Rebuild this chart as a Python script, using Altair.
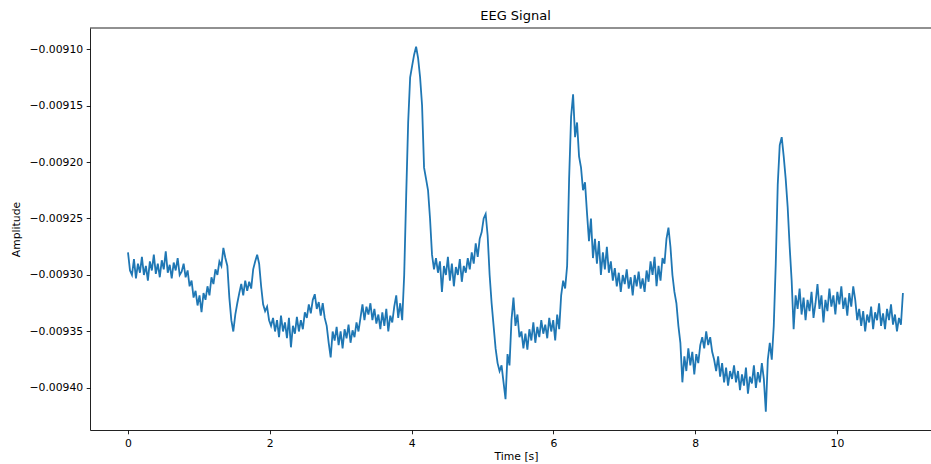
import altair as alt
import numpy as np
import pandas as pd

amplitude = [
    -0.009280, -0.009296, -0.009300, -0.009286, -0.009303, -0.009290, -0.009298, -0.009284, -0.009300, -0.009292,
    -0.009305, -0.009288, -0.009296, -0.009282, -0.009299, -0.009290, -0.009302, -0.009287, -0.009295, -0.009279,
    -0.009298, -0.009291, -0.009303, -0.009289, -0.009296, -0.009285, -0.009300,
    -0.009297, -0.009290, -0.009302, -0.009296, -0.009310, -0.009305, -0.009320, -0.009314, -0.009327, -0.009318,
    -0.009333, -0.009316, -0.009322,
    -0.009310, -0.009318, -0.009302, -0.009308, -0.009295, -0.009300, -0.009288, -0.009292, -0.009276, -0.009285,
    -0.009292, -0.009320, -0.009340, -0.009350, -0.009335, -0.009325,
    -0.009316, -0.009308, -0.009318, -0.009305, -0.009314, -0.009306, -0.009312, -0.009295, -0.009288, -0.009282,
    -0.009290,
    -0.009310, -0.009326, -0.009332, -0.009328, -0.009340, -0.009345, -0.009338,
    -0.009350, -0.009340, -0.009355, -0.009336, -0.009350, -0.009342, -0.009356, -0.009338, -0.009364, -0.009345,
    -0.009352, -0.009337, -0.009350, -0.009340, -0.009348, -0.009333,
    -0.009338, -0.009326, -0.009334, -0.009322, -0.009317, -0.009330, -0.009324, -0.009336, -0.009325, -0.009338,
    -0.009345, -0.009360, -0.009373, -0.009350,
    -0.009358, -0.009346, -0.009362, -0.009350, -0.009365, -0.009348, -0.009356, -0.009344, -0.009360, -0.009349,
    -0.009355, -0.009342, -0.009350,
    -0.009338, -0.009326, -0.009340, -0.009328, -0.009335, -0.009325, -0.009340, -0.009330, -0.009343,
    -0.009335, -0.009348, -0.009333, -0.009345, -0.009330, -0.009350, -0.009336, -0.009342, -0.009328, -0.009318,
    -0.009338, -0.009325,
    -0.009340, -0.009300, -0.009230, -0.009165, -0.009125, -0.009115, -0.009105, -0.009098, -0.009108, -0.009125,
    -0.009150, -0.009205, -0.009215, -0.009225, -0.009250, -0.009282, -0.009295,
    -0.009285, -0.009298, -0.009288, -0.009315, -0.009292, -0.009300, -0.009284, -0.009305, -0.009290, -0.009310,
    -0.009293, -0.009300, -0.009286, -0.009306, -0.009292, -0.009298,
    -0.009285, -0.009295, -0.009280, -0.009290, -0.009272, -0.009284, -0.009268, -0.009262, -0.009250, -0.009246,
    -0.009265, -0.009300, -0.009325, -0.009345, -0.009365, -0.009378, -0.009385, -0.009380, -0.009395, -0.009410,
    -0.009370, -0.009380,
    -0.009340, -0.009320, -0.009345, -0.009335, -0.009355, -0.009350, -0.009365,
    -0.009352, -0.009366, -0.009348, -0.009358, -0.009342, -0.009360, -0.009346, -0.009355, -0.009340, -0.009352,
    -0.009344, -0.009356, -0.009338, -0.009350, -0.009340, -0.009358, -0.009335, -0.009348,
    -0.009318, -0.009305, -0.009312, -0.009292, -0.009215, -0.009160, -0.009140,
    -0.009178, -0.009165, -0.009195, -0.009205, -0.009225, -0.009218, -0.009245, -0.009270, -0.009250, -0.009285,
    -0.009268,
    -0.009290, -0.009270, -0.009300, -0.009280, -0.009295, -0.009275, -0.009298,
    -0.009288, -0.009305, -0.009294, -0.009310, -0.009298, -0.009315, -0.009300, -0.009308, -0.009295, -0.009312,
    -0.009302, -0.009318, -0.009300, -0.009310, -0.009297, -0.009312, -0.009303, -0.009315, -0.009296,
    -0.009306, -0.009288, -0.009300, -0.009284, -0.009310, -0.009292, -0.009305, -0.009285, -0.009290, -0.009268,
    -0.009258, -0.009275, -0.009300, -0.009315, -0.009325, -0.009345, -0.009360, -0.009395,
    -0.009372, -0.009385, -0.009365, -0.009380, -0.009368, -0.009388, -0.009370, -0.009378, -0.009362,
    -0.009355, -0.009365, -0.009350, -0.009362, -0.009355, -0.009368,
    -0.009375, -0.009385, -0.009372, -0.009390, -0.009378, -0.009395, -0.009382, -0.009398, -0.009385, -0.009392,
    -0.009380, -0.009395, -0.009385, -0.009402, -0.009388, -0.009398, -0.009382, -0.009405, -0.009390, -0.009396,
    -0.009380, -0.009400, -0.009386, -0.009395, -0.009378, -0.009392, -0.009421,
    -0.009375, -0.009360, -0.009375, -0.009345, -0.009290, -0.009220, -0.009185, -0.009178, -0.009195, -0.009215,
    -0.009240, -0.009275, -0.009305, -0.009348,
    -0.009318, -0.009330, -0.009312, -0.009335, -0.009320, -0.009340, -0.009322, -0.009332, -0.009315, -0.009338,
    -0.009325, -0.009308, -0.009330, -0.009318, -0.009342, -0.009322, -0.009332, -0.009312, -0.009328, -0.009318,
    -0.009335, -0.009315, -0.009326, -0.009310, -0.009330, -0.009320, -0.009336, -0.009316, -0.009328, -0.009310,
    -0.009322, -0.009340,
    -0.009330, -0.009345, -0.009332, -0.009350, -0.009335, -0.009342, -0.009328, -0.009348, -0.009333, -0.009340,
    -0.009325, -0.009345, -0.009334, -0.009348, -0.009330, -0.009340, -0.009326, -0.009344, -0.009335, -0.009350,
    -0.009338, -0.009344, -0.009316,
]
t_end = 10.93  # last sample time [s]

x_ticks = [0, 2, 4, 6, 8, 10]
y_ticks = [-0.00940, -0.00935, -0.00930, -0.00925, -0.00920, -0.00915, -0.00910]

time_s = np.linspace(0.0, t_end, len(amplitude))
df = pd.DataFrame({"time": time_s, "amplitude": amplitude})

W, H = 841, 402
FONT = "DejaVu Sans"

line = alt.Chart(df).mark_line(color="#1f77b4", strokeWidth=1.8, clip=True).encode(
    x=alt.X(
        "time:Q",
        title="Time [s]",
        scale=alt.Scale(domain=[-0.536, 11.326], nice=False, zero=False),
        axis=alt.Axis(
            values=x_ticks, format="d", grid=False, labelOverlap=False,
            titleX=426, titleY=26, titleBaseline="middle", titleAlign="center",
        ),
    ),
    y=alt.Y(
        "amplitude:Q",
        title="Amplitude",
        scale=alt.Scale(domain=[-0.0094372, -0.0090814], nice=False, zero=False),
        axis=alt.Axis(
            values=y_ticks, format=".5f", grid=False, labelOverlap=False,
            titleX=-73.5, titleY=201, titleAngle=270,
            titleBaseline="middle", titleAlign="center",
        ),
    ),
)

top_border = alt.Chart(alt.Data(values=[{"k": 1}])).mark_rule(
    color="black", strokeWidth=0.87
).encode(x=alt.value(0), x2=alt.value(W), y=alt.value(0))

chart = (
    alt.layer(line, top_border)
    .properties(
        width=W,
        height=H,
        autosize=alt.AutoSizeParams(type="none"),
        padding={"left": 90, "top": 28, "right": 0, "bottom": 34},
        background="white",
        title=alt.Title(
            "EEG Signal", font=FONT, fontSize=13, fontWeight="normal",
            color="black", anchor="middle", offset=5, dx=5,
        ),
    )
    .configure_view(strokeWidth=0)
    .configure_axis(
        domainColor="black", domainWidth=0.87,
        tickColor="black", tickWidth=0.87, tickSize=3.8,
        labelPadding=3.5, labelFont=FONT, labelFontSize=10.8, labelColor="black",
        titleFont=FONT, titleFontSize=10.8, titleFontWeight="normal", titleColor="black",
    )
)

chart.save("out.html", embed_options={"renderer": "svg", "actions": False})
